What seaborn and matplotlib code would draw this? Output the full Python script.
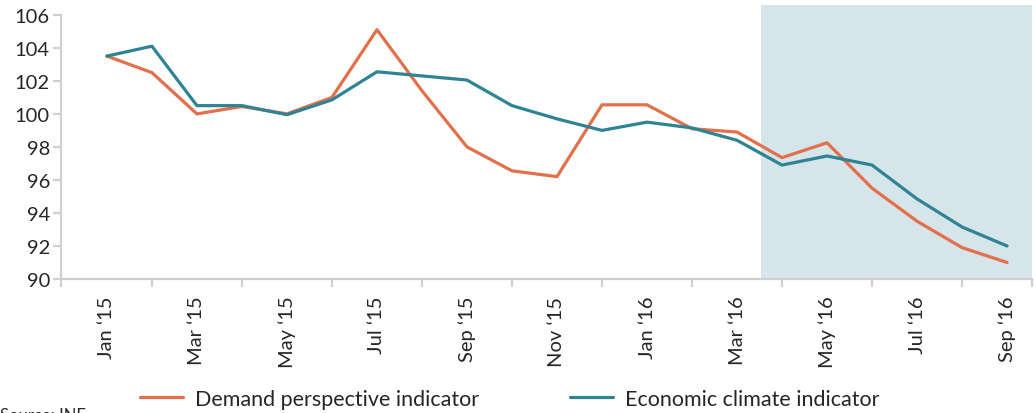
"""
Demand perspective vs economic climate indicators, Jan 2015 - Sep 2016.
"""

import numpy as np
import pandas as pd
import matplotlib
matplotlib.use("Agg")
import matplotlib.pyplot as plt
import seaborn as sns

months = ["Jan ‘15", "Feb ‘15", "Mar ‘15", "Apr ‘15", "May ‘15", "Jun ‘15",
          "Jul ‘15", "Aug ‘15", "Sep ‘15", "Oct ‘15", "Nov ‘15", "Dec ‘15",
          "Jan ‘16", "Feb ‘16", "Mar ‘16", "Apr ‘16", "May ‘16", "Jun ‘16",
          "Jul ‘16", "Aug ‘16", "Sep ‘16"]

demand = [103.5, 102.5, 100.0, 100.45, 100.0, 101.0, 105.1, 101.4, 98.0,
          96.55, 96.2, 100.55, 100.55, 99.1, 98.9, 97.35, 98.25, 95.5,
          93.5, 91.9, 91.0]
climate = [103.5, 104.1, 100.5, 100.5, 99.95, 100.85, 102.55, 102.3, 102.05,
           100.5, 99.7, 99.0, 99.5, 99.15, 98.4, 96.9, 97.45, 96.9,
           94.85, 93.15, 92.0]

series_names = ["Demand perspective indicator", "Economic climate indicator"]
colors = ["#E2704B", "#2E8495"]
yticks = [90, 92, 94, 96, 98, 100, 102, 104, 106]
forecast_start = "Apr ‘16"

sns.set_theme(style="white")
plt.rcParams["font.family"] = ["Lato", "DejaVu Sans"]

df = pd.DataFrame({
    "idx": list(range(len(months))) * 2,
    "value": demand + climate,
    "series": [series_names[0]] * len(months) + [series_names[1]] * len(months),
})

fig = plt.figure(figsize=(10.36, 4.14), dpi=100)
ax = fig.add_axes([0.0589, 0.3237, 0.9375, 0.662])

# shaded forecast window
x0 = months.index(forecast_start) - 0.47
ax.axvspan(x0, 20.6, color="#D6E5EA", zorder=0, lw=0)

sns.lineplot(data=df, x="idx", y="value", hue="series", palette=colors,
             linewidth=2.3, ax=ax, legend=False, zorder=3)

ax.set_xlim(-1.02, 20.56)
ax.set_ylim(90, 106.6)
ax.set_xlabel("")
ax.set_ylabel("")

ax.set_yticks(yticks)
ax.set_yticklabels([str(v) for v in yticks])
ax.set_xticks(range(0, len(months), 2))
ax.set_xticklabels(months[::2], rotation=90)
ax.set_xticks(list(range(1, len(months), 2)) + [-1.02, 20.56], minor=True)

grey = "#D0D0D0"
for side in ["top", "right"]:
    ax.spines[side].set_visible(False)
for side in ["left", "bottom"]:
    ax.spines[side].set_color(grey)
    ax.spines[side].set_linewidth(1.6)
ax.spines["left"].set_bounds(90, 106)

ax.tick_params(axis="y", which="major", direction="out", length=6, width=1.6,
               color=grey, labelsize=14.5, pad=2, left=True)
ax.tick_params(axis="x", which="major", length=0, labelsize=14.5, pad=12,
               bottom=True)
ax.tick_params(axis="x", which="minor", direction="out", length=6, width=1.6,
               color=grey, bottom=True)
for lab in ax.get_xticklabels():
    lab.set_va("top")

handles = [plt.Line2D([], [], color=c, lw=2.3) for c in colors]
fig.legend(handles, series_names, loc="center", bbox_to_anchor=(0.492, 0.034),
           ncol=2, frameon=False, fontsize=15.5, handlelength=2.0,
           handletextpad=0.55, columnspacing=4.2)

fig.text(0.0, 0.014, "Source: INE", fontsize=12, va="top", ha="left")

fig.savefig("out.png", dpi=100)
plt.close(fig)
